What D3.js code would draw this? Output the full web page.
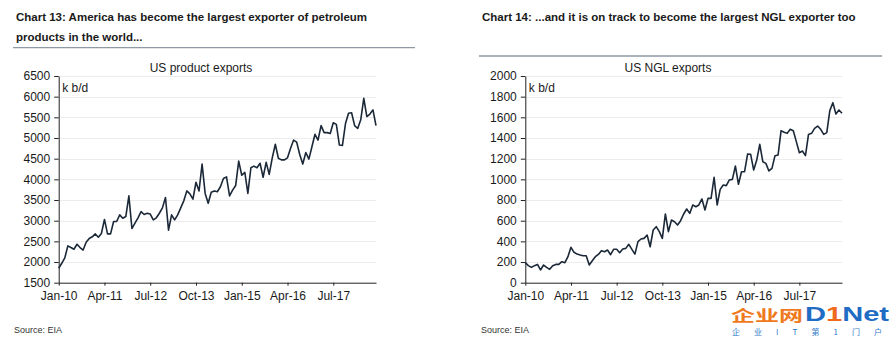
<!DOCTYPE html>
<html><head><meta charset="utf-8">
<script src="https://cdn.jsdelivr.net/npm/d3@7"></script>
<style>
body{margin:0;background:#fff;}
svg{display:block;font-family:Arial,"Liberation Sans",sans-serif;}
</style></head>
<body>
<svg id="c" width="890" height="337"></svg>
<script>
// ---- data (monthly, Jan-2010 onward) ----
const startYear = 2010;
const productExports = [1850,1970,2100,2390,2350,2310,2430,2350,2290,2480,
2570,2610,2680,2600,2690,3030,2680,2680,2980,2980,
3140,3060,3100,3600,2810,2940,3070,3220,3150,3180,
3160,3020,3070,3180,3310,3560,2770,3140,3020,3140,
3310,3480,3720,3650,3520,3930,3720,4370,3660,3420,
3690,3720,3700,3820,4020,4060,3600,3740,3850,4440,
4100,4170,3660,4280,4320,4280,4390,4050,4410,4120,
4520,4850,4510,4470,4470,4520,4750,4950,4900,4600,
4370,4650,4490,4790,5090,4950,5300,5130,5130,5110,
5370,5330,4830,4820,5350,5600,5610,5300,5230,5440,
5960,5520,5580,5680,5300];
const nglExports = [194,165,148,165,177,123,171,148,129,165,
177,177,203,194,252,342,294,277,268,261,
261,171,213,252,274,310,300,316,271,323,
323,290,326,332,371,323,277,397,423,429,
461,348,510,542,494,429,665,494,606,590,
558,600,665,713,671,752,735,752,810,703,
816,816,1019,752,903,945,939,994,1000,1129,
952,1074,1074,1245,1242,1090,1187,1339,1171,1155,
1081,1106,1229,1235,1471,1455,1445,1484,1471,1365,
1258,1274,1229,1435,1445,1494,1516,1484,1435,1452,
1665,1742,1632,1671,1639];
const xTickLabels = ["Jan-10","Apr-11","Jul-12","Oct-13","Jan-15","Apr-16","Jul-17"];
const productTicks = [1500,2000,2500,3000,3500,4000,4500,5000,5500,6000,6500];
const nglTicks = [0,200,400,600,800,1000,1200,1400,1600,1800,2000];

const monthNames = ["Jan","Feb","Mar","Apr","May","Jun","Jul","Aug","Sep","Oct","Nov","Dec"];
const monthLabel = i => monthNames[i%12] + "-" + String((startYear + Math.floor(i/12))%100).padStart(2,"0");

const svg = d3.select("#c");

function panel(o){
  const g = svg.append("g");
  // title
  const t = g.append("text").attr("x",o.titleX).attr("y",20.5)
    .attr("font-size",11.5).attr("font-weight","bold").attr("fill","#1a1a1a");
  o.title.forEach((ln,i)=>t.append("tspan").attr("x",o.titleX).attr("dy",i?20:0).text(ln));
  g.append("line").attr("x1",o.ruleX1).attr("x2",o.ruleX2).attr("y1",o.ruleY).attr("y2",o.ruleY)
    .attr("stroke","#8e9aa6").attr("stroke-width",1.3);

  const x = d3.scaleLinear().domain([0,104]).range([o.x0,o.x1]);
  const y = d3.scaleLinear().domain(o.yDomain).range([282.7,76]);

  // gridlines
  g.append("g").selectAll("line").data(o.yTicks.slice(1)).join("line")
    .attr("x1",o.x0+1).attr("x2",o.x1).attr("y1",d=>Math.round(y(d))+0.5).attr("y2",d=>Math.round(y(d))+0.5)
    .attr("stroke","#ececec").attr("stroke-width",1);

  // subtitle & unit
  g.append("text").attr("x",o.subX).attr("y",72).attr("text-anchor","middle")
    .attr("font-size",12).attr("fill","#1a1a1a").text(o.sub);
  g.append("text").attr("x",o.x0+3.5).attr("y",91.5)
    .attr("font-size",12).attr("fill","#1a1a1a").text("k b/d");

  // y axis
  const ya = g.append("g").attr("transform",`translate(${o.x0},0)`)
    .call(d3.axisLeft(y).tickValues(o.yTicks).tickFormat(d3.format("d")).tickSizeInner(4.5).tickSizeOuter(0).tickPadding(4));
  ya.select(".domain").attr("stroke","#222");
  ya.selectAll(".tick line").attr("stroke","#222");
  ya.selectAll("text").attr("font-size",12).attr("fill","#1a1a1a").attr("font-family","Arial,'Liberation Sans',sans-serif");

  // x axis
  const tickIdx = d3.range(0,105).filter(i=>xTickLabels.includes(monthLabel(i)));
  const xa = g.append("g").attr("transform",`translate(0,282.7)`)
    .call(d3.axisBottom(x).tickValues(tickIdx).tickFormat(monthLabel).tickSizeInner(3).tickSizeOuter(0).tickPadding(6));
  xa.select(".domain").attr("stroke","#222");
  xa.selectAll(".tick line").attr("stroke","#222");
  xa.selectAll("text").attr("font-size",12).attr("fill","#1a1a1a").attr("font-family","Arial,'Liberation Sans',sans-serif");

  // line
  g.append("path").datum(o.data)
    .attr("d",d3.line().x((d,i)=>x(i)).y(d=>y(d)))
    .attr("fill","none").attr("stroke","#1b2838").attr("stroke-width",1.6).attr("stroke-linejoin","round");

  // source
  g.append("text").attr("x",o.srcX).attr("y",333).attr("font-size",9).attr("fill","#333").text("Source: EIA");
}

panel({title:["Chart 13: America has become the largest exporter of petroleum","products in the world..."],
  titleX:16, ruleX1:13, ruleX2:415, ruleY:47.7,
  x0:58.7, x1:376, yDomain:[1500,6500], yTicks:productTicks,
  sub:"US product exports", subX:201, data:productExports, srcX:14});

panel({title:["Chart 14: ...and it is on track to become the largest NGL exporter too"],
  titleX:482, ruleX1:479, ruleX2:882, ruleY:56,
  x0:525.3, x1:842, yDomain:[0,2000], yTicks:nglTicks,
  sub:"US NGL exports", subX:668, data:nglExports, srcX:481});

// watermark
const wm = svg.append("g");
wm.append("text").attr("x",731).attr("y",320.5).attr("font-size",15).attr("font-weight","bold")
  .attr("textLength",72).attr("lengthAdjust","spacingAndGlyphs")
  .attr("fill","#ef7a1c").attr("font-family","'Noto Sans CJK SC',sans-serif").text("企业网");
const wt = wm.append("text").attr("x",805).attr("y",320.8).attr("font-size",20).attr("font-weight","bold")
  .attr("textLength",84).attr("lengthAdjust","spacingAndGlyphs")
  .attr("font-family","Arial,'Liberation Sans',sans-serif");
wt.append("tspan").attr("fill","#1f6cc4").text("D");
wt.append("tspan").attr("fill","#ef6a1c").text("1");
wt.append("tspan").attr("fill","#1f6cc4").text("Net");
wm.append("text").attr("x",732).attr("y",334.6).attr("font-size",8).attr("fill","#2f79c8")
  .attr("textLength",150).attr("lengthAdjust","spacing")
  .attr("font-family","'Noto Sans CJK SC',sans-serif").text("企业IT第1门户");
</script>
</body></html>
